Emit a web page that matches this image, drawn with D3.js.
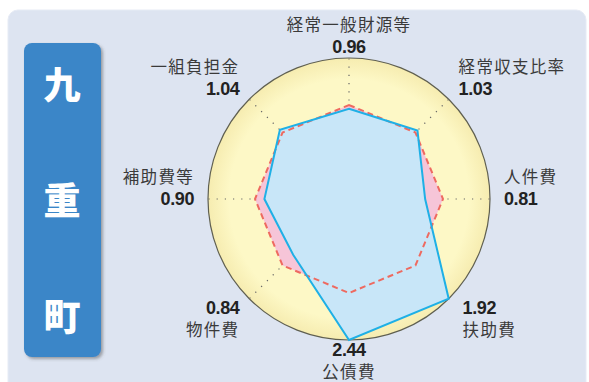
<!DOCTYPE html>
<html><head><meta charset="utf-8">
<script src="https://cdn.jsdelivr.net/npm/d3@7"></script>
<style>html,body{margin:0;padding:0;background:#fff;}svg{display:block;}</style>
</head><body>
<svg id="chart" width="589" height="382"></svg>
<script>
const categories = ["経常一般財源等","経常収支比率","人件費","扶助費","公債費","物件費","補助費等","一組負担金"];
const values = [0.96, 1.03, 0.81, 1.92, 2.44, 0.84, 0.90, 1.04];
const valueLabels = ["0.96","1.03","0.81","1.92","2.44","0.84","0.90","1.04"];
const baseline = [1, 1, 1, 1, 1, 1, 1, 1];
const townName = ["九","重","町"];

const svg = d3.select("#chart");
const cx = 349, cy = 199, R = 141;
const jp = "'Noto Sans CJK JP','Noto Sans',sans-serif";

// panel
svg.append("rect").attr("x",8).attr("y",10).attr("width",578).attr("height",400).attr("rx",10)
  .attr("fill","#dde4f1").attr("stroke","#e6ebf5").attr("stroke-width",1);

// town box
const defs = svg.append("defs");
const f = defs.append("filter").attr("id","sh").attr("x","-20%").attr("y","-20%").attr("width","150%").attr("height","150%");
f.append("feDropShadow").attr("dx",2).attr("dy",2).attr("stdDeviation",1.5).attr("flood-color","#555").attr("flood-opacity",0.5);
svg.append("rect").attr("x",24).attr("y",43).attr("width",77).attr("height",314).attr("rx",8)
  .attr("fill","#3a86c8").attr("filter","url(#sh)");
const ty = d3.scalePoint().domain(townName).range([86,318]);
svg.selectAll(".town").data(townName).join("text")
  .attr("x",62).attr("y",d=>ty(d)).attr("dy","0.36em")
  .attr("text-anchor","middle").attr("fill","#fff")
  .style("font-family",jp).style("font-weight",900).style("font-size","37px").text(d=>d);

// radial
const angle = d3.scalePoint().domain(d3.range(categories.length)).range([0, 2*Math.PI*(categories.length-1)/categories.length]);
const r = d3.scaleLinear().domain([0,1.5]).range([0,R]).clamp(true);
const g = svg.append("g").attr("transform",`translate(${cx},${cy})`);

const rg = defs.append("radialGradient").attr("id","cg");
rg.append("stop").attr("offset","0.85").attr("stop-color","#fdf8c6");
rg.append("stop").attr("offset","1").attr("stop-color","#f6ecb0");
g.append("circle").attr("r",R).attr("fill","url(#cg)").attr("stroke","#5f5f50").attr("stroke-width",1.2);

// grid spokes
g.selectAll(".spoke").data(categories.map((c,i)=>i)).join("line")
  .attr("x1",0).attr("y1",0)
  .attr("x2",i=>R*Math.sin(angle(i))).attr("y2",i=>-R*Math.cos(angle(i)))
  .attr("stroke","#666").attr("stroke-width",1.2).attr("stroke-dasharray","1.2,7");
g.append("circle").attr("r",1.6).attr("fill","#333");

const line = d3.lineRadial().angle((d,i)=>angle(i)).radius(d=>r(d)).curve(d3.curveLinearClosed);

g.append("path").attr("d",line(baseline)).attr("fill","#f6c5d8").attr("stroke","none");
g.append("path").attr("d",line(values)).attr("fill","#c8e6f8").attr("stroke","none");
g.append("path").attr("d",line(baseline)).attr("fill","none").attr("stroke","#ee6a60").attr("stroke-width",2).attr("stroke-dasharray","6,4");
g.append("path").attr("d",line(values)).attr("fill","none").attr("stroke","#1fb0e6").attr("stroke-width",2);

// labels
const rl = 155;
categories.forEach((c,i)=>{
  const a = angle(i);
  const s = Math.sin(a), co = Math.cos(a);
  const ax = cx + rl*s + (co < -0.5 && s > 0.01 ? 4 : 0), ay = cy - rl*co;
  const anchor = Math.abs(s) < 0.01 ? "middle" : (s > 0 ? "start" : "end");
  const upper = co > -0.01;
  let vy = upper ? ay + 6 : ay + 5;
  if (i===0) vy = 53;
  if (i===4) vy = 356;
  const ny = upper ? vy - 22 : vy + 22;
  svg.append("text").attr("x",ax).attr("y",ny).attr("text-anchor",anchor)
    .attr("fill","#3a3a3a").style("font-family",jp).style("font-size","16.5px")
    .style("letter-spacing","1.3px").text(c);
  svg.append("text").attr("x",ax).attr("y",vy).attr("text-anchor",anchor)
    .attr("fill","#222").style("font-family","'Liberation Sans',Arial,sans-serif")
    .style("font-weight","bold").style("font-size","18px").style("letter-spacing","-0.4px").text(valueLabels[i]);
});
</script>
</body></html>
